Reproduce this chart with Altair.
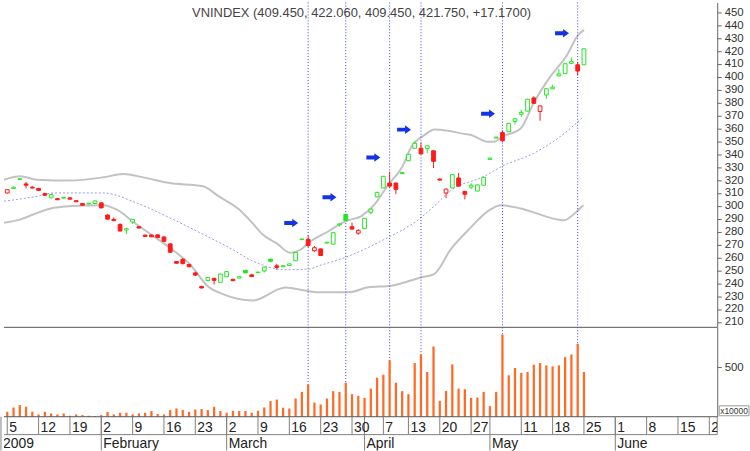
import altair as alt
import pandas as pd

# ---- daily candles: trading-day index 0 = 5 Jan 2009 ----
opens = [310, 313.5, 320.5, 317, 314.5, 313.5, 309.5, 306.2, 305.6, 306,
         306.2, 304, 301.8, 301.5, 301.8, 302.3, 292.9, 289.5, 285.6, 281.3,
         287.5, 283.8, 277.3, 277.3, 277.5, 275.9, 270.5, 256.8, 258.5, 254.5,
         248, 237.5, 242, 243.8, 240.7, 245, 243, 244, 250, 246.5,
         248.2, 249.5, 258.7, 253.5, 252.8, 253.8, 257.4, 273.8, 274, 265.2,
         266.6, 271.2, 270.3, 285.3, 293.4, 283.8, 278.8, 282.3, 295, 307,
         313.9, 317.7, 317.7, 325, 335, 344.7, 344.7, 344.5, 342.7, 320.8,
         310, 313.9, 321.6, 311.2, 314.5, 311.5, 316, 336, 352.6, 356.8,
         357.5, 365.5, 371, 373.5, 383.7, 373.2, 386, 390.8, 400.8, 402.5,
         410.5, 409.4, 409.45]
highs = [313, 315, 321.5, 318.6, 315.2, 314, 310, 309.2, 306, 306.8,
         306.6, 304.5, 302.2, 302.3, 304.2, 302.8, 293.3, 291, 286.5, 282.5,
         289.8, 284.2, 277.8, 277.8, 277.8, 276.2, 271, 257.2, 259.5, 255,
         249, 238, 244.8, 244.2, 247.4, 249.3, 243.4, 245.3, 250.4, 246.9,
         248.9, 252.8, 259, 255, 253.8, 255.3, 264.1, 274.5, 277, 268.8,
         267, 272, 279.5, 286.2, 293.7, 287, 281.8, 290.6, 297.8, 310.8,
         323.2, 326.5, 318, 326, 340.3, 350, 349, 346.8, 343, 321.2,
         313.3, 324.5, 325.5, 311.5, 317.5, 316.5, 322.4, 337.3, 353.6, 358.5,
         364.3, 367.8, 374.5, 383, 385, 377.8, 391.1, 394, 406, 410.5,
         415, 411.5, 422.06]
lows = [309.5, 313, 320, 313.6, 313.5, 311.5, 307.8, 306, 304.3, 305.8,
        304.8, 302.8, 300.2, 301.2, 301.5, 298.2, 289.3, 288, 280.2, 278,
        286, 282.5, 276, 275.8, 275.3, 272.2, 263.5, 255.2, 254.5, 252.5,
        245.5, 236, 241.8, 239, 240.5, 244.8, 241.6, 243.8, 247.8, 244.9,
        248, 248.3, 256.7, 250.5, 252.6, 253.6, 257.2, 273.6, 268, 264.2,
        261.2, 271, 270.1, 284, 288.2, 281.5, 277.5, 282.1, 293.5, 306.8,
        313.7, 314, 309, 324.8, 334.8, 344.5, 340, 340.8, 329.3, 319.7,
        306, 313.7, 315, 305, 313, 311.3, 315.8, 335.8, 352.4, 349.5,
        357.3, 363, 369, 373.3, 379.2, 366, 383, 390.6, 400.6, 402.3,
        410.3, 401, 409.45]
closes = [312.5, 314.5, 321, 316, 313.8, 312, 308.2, 308.8, 304.8, 306.5,
          305.2, 303.2, 300.5, 302, 303.8, 298.4, 289.7, 288.6, 280.5, 282.3,
          289.5, 282.8, 276.3, 276, 275.5, 272.5, 264, 255.5, 255.2, 252.8,
          246.3, 236.3, 244.5, 242.2, 247.1, 249, 242, 245, 248, 245.2,
          248.6, 252.5, 257, 252.3, 253.5, 255, 263.8, 274.3, 269.2, 267.5,
          261.5, 271.8, 279.2, 286, 288.5, 282, 281, 290.3, 297.5, 310.5,
          322.9, 315.3, 312.8, 325.8, 340, 348.5, 340.3, 346.5, 334.5, 320,
          313, 324.2, 315.3, 309, 316, 316.2, 322.1, 337, 353.3, 350.5,
          364, 367.5, 372.5, 382.7, 379.5, 377.5, 390.8, 392, 402.2, 410.2,
          411.8, 404.58, 421.75]
prior_close = 316.0
volumes = [50, 93, 117, 100, 50, 23, 50, 33, 23, 33,
           10, 23, 17, 10, 7, 17, 47, 23, 40, 40,
           23, 33, 40, 57, 27, 23, 67, 83, 67, 50,
           73, 77, 67, 100, 57, 40, 60, 57, 57, 40,
           60, 93, 157, 173, 90, 83, 183, 250, 323, 143,
           123, 183, 257, 250, 343, 227, 210, 190, 283, 393,
           423, 567, 343, 257, 227, 540, 627, 450, 707, 160,
           260, 527, 283, 277, 190, 193, 250, 107, 250, 827,
           417, 490, 440, 450, 523, 540, 517, 507, 517, 600,
           627, 733, 450]

# ---- Bollinger bands (read at sample days) ----
upper_days = [-0.5, 2.1, 4.7, 10, 15.3, 18.5, 21.7, 25.9, 31.2, 33.7, 36.9, 39.1, 40.7,
              43.1, 45.1, 47, 47.8, 51.3, 54, 56.5, 58.6, 60.8, 62.9, 64.5, 66.6, 68.1,
              70.3, 72.4, 74, 76.6, 77.7, 79, 81.9, 84, 86.6, 89.3, 91, 92]
upper_vals = [320.3, 322.9, 320.3, 319.6, 322.1, 324.7, 322.1, 317.7, 315.2, 307.5, 297.5,
              286.7, 278, 270.5, 263.6, 266.7, 270.3, 280.5, 288.2, 292.1, 301.1, 316.5,
              329.3, 346, 355, 359.3, 358.3, 356.2, 355, 349.8, 349.8, 353.7, 360, 380,
              400, 417, 432, 436.5]
mid_days = [-0.5, 4.8, 7.4, 15.3, 20.6, 25.9, 31.2, 35.4, 39.1, 44.4, 48.1, 49.7, 53.9,
            60.2, 65.5, 68.1, 70.8, 76.1, 78.9, 84, 88.2, 91.9]
mid_vals = [303.6, 307.5, 310, 310, 302.3, 290.8, 278, 267.6, 257.4, 250.5, 251, 253.5,
            260, 274.1, 289, 299.8, 312, 322.9, 330.6, 340.8, 353.7, 369]
lower_days = [-0.5, 2.1, 4.8, 7.4, 10, 15.3, 17.4, 20.6, 25.9, 29.1, 32.2, 34.3, 39.1,
              44.4, 47.5, 49.7, 54.4, 57.6, 61.3, 66, 68.1, 70.8, 73.4, 77.1, 78.7, 81.9,
              87.7, 88.8, 90.9, 91.9]
lower_vals = [286.9, 289.5, 294.6, 298.5, 299.8, 300.5, 297.2, 285.7, 267.6, 254.9, 236.8,
              231.7, 226.6, 236.6, 234.3, 233, 233, 236.8, 238.1, 244.5, 247.1, 266.6,
              280.5, 297.2, 300.5, 298, 289.5, 288.8, 295.9, 300.5]

# ---- signals ----
signal_days = [48, 54, 61, 66, 79, 91]
arrow_days = [45.3, 51.4, 58.4, 63.3, 76.7, 88.5]
arrow_prices = [286.7, 306.7, 337.5, 359.1, 371.4, 433.8]

# ---- date axis ----
week_days = [0, 5, 10, 15, 20, 25, 30, 35, 40, 45, 50, 55, 60, 64, 69, 74, 82, 87, 92,
             97, 102, 107, 112]
week_labels = ["5", "12", "19", "2", "9", "16", "23", "2", "9", "16", "23", "30", "7",
               "13", "20", "27", "11", "18", "25", "1", "8", "15", "22"]
month_days = [-1, 15, 35, 57, 77, 97]
month_labels = ["2009", "February", "March", "April", "May", "June"]
title_text = "VNINDEX (409.450, 422.060, 409.450, 421.750, +17.1700)"

# ---------------------------------------------------------------
n = len(closes)
prev = [prior_close] + closes[:-1]
candles = pd.DataFrame({
    "day": list(range(n)), "open": opens, "high": highs, "low": lows,
    "close": closes, "volume": volumes,
    "dir": ["up" if c >= p else "down" for c, p in zip(closes, prev)],
    "hollow": [c >= o for o, c in zip(opens, closes)],
})

FONT = "Liberation Sans"
W = 718
xs = alt.Scale(domain=[-0.523, 113.26], nice=False, zero=False)
ys = alt.Scale(domain=[205.8, 457.7], nice=False, zero=False)
vs = alt.Scale(domain=[0, 900], nice=False, zero=False)
cs = alt.Scale(domain=["up", "down"], range=["#22e622", "#ff1a1a"])

price_axis = alt.Axis(orient="right", values=list(range(210, 460, 10)), title=None,
                      tickSize=4, labelPadding=3, labelFontSize=11.5, labelFont=FONT,
                      labelColor="#333333", domainColor="#666666", tickColor="#666666",
                      grid=False, labelOverlap=False, labelFlush=False)
vol_axis = alt.Axis(orient="right", values=[500], title=None, tickSize=4, labelPadding=3,
                    labelFontSize=11.5, labelFont=FONT, labelColor="#333333",
                    domainColor="#666666", tickColor="#666666", grid=False)

X = lambda f: alt.X(f, scale=xs, axis=None)
YP = lambda f: alt.Y(f, scale=ys, axis=price_axis)

one = pd.DataFrame({"k": [0]})

band_u = alt.Chart(pd.DataFrame({"day": upper_days, "v": upper_vals})).mark_line(
    color="#c2c2c2", strokeWidth=2, clip=True, interpolate="monotone").encode(
    x=X("day:Q"), y=YP("v:Q"))
band_l = alt.Chart(pd.DataFrame({"day": lower_days, "v": lower_vals})).mark_line(
    color="#c2c2c2", strokeWidth=2, clip=True, interpolate="monotone").encode(
    x=X("day:Q"), y=YP("v:Q"))
band_m = alt.Chart(pd.DataFrame({"day": mid_days, "v": mid_vals})).mark_line(
    color="#9a9ae0", strokeWidth=1, strokeDash=[2, 2], clip=True, interpolate="monotone").encode(
    x=X("day:Q"), y=YP("v:Q"))

sig = pd.DataFrame({"day": signal_days})
vlines_p = alt.Chart(sig).mark_rule(color="#3c3cff", strokeWidth=1, strokeDash=[1, 2]).encode(
    x=X("day:Q"))

base = alt.Chart(candles)
wicks = base.mark_rule(strokeWidth=1).encode(
    x=X("day:Q"), y=YP("low:Q"), y2="high:Q",
    color=alt.Color("dir:N", scale=cs, legend=None))
body_base = base.transform_calculate(b0="datum.day - 0.3", b1="datum.day + 0.3")
filled = body_base.transform_filter("!datum.hollow").mark_rect(strokeWidth=1).encode(
    x=X("b0:Q"), x2="b1:Q", y=YP("open:Q"), y2="close:Q",
    color=alt.Color("dir:N", scale=cs, legend=None),
    stroke=alt.Stroke("dir:N", scale=cs, legend=None))
hollow = body_base.transform_filter("datum.hollow").mark_rect(strokeWidth=1, fill="white").encode(
    x=X("b0:Q"), x2="b1:Q", y=YP("open:Q"), y2="close:Q",
    stroke=alt.Stroke("dir:N", scale=cs, legend=None))

arrow_path = "M-1,-0.28L0.15,-0.28L0.15,-0.62L1,0L0.15,0.62L0.15,0.28L-1,0.28Z"
arrows = alt.Chart(pd.DataFrame({"day": arrow_days, "p": arrow_prices})).mark_point(
    shape=arrow_path, size=196, filled=True, color="#1432e6", opacity=1, strokeWidth=0).encode(
    x=X("day:Q"), y=YP("p:Q"))

title = alt.Chart(pd.DataFrame({"t": [title_text]})).mark_text(
    font=FONT, fontSize=13, color="#444444", align="center", baseline="alphabetic").encode(
    x=alt.value(360), y=alt.value(14.5), text="t:N")

price = alt.layer(band_u, band_l, band_m, vlines_p, wicks, filled, hollow, arrows, title).properties(
    width=W, height=327)

# volume panel
vbars = base.transform_calculate(b0="datum.day - 0.18", b1="datum.day + 0.18").mark_rect(
    color="#ff6a26").encode(
    x=X("b0:Q"), x2="b1:Q", y=alt.Y("volume:Q", scale=vs, axis=vol_axis), y2=alt.datum(0))
vlines_v = alt.Chart(sig).mark_rule(color="#3c3cff", strokeWidth=1, strokeDash=[1, 2]).encode(
    x=X("day:Q"))
top_line = alt.Chart(one).mark_rule(color="#555555", strokeWidth=1).encode(y=alt.value(0))
bot_line = alt.Chart(one).mark_rule(color="#555555", strokeWidth=1).encode(y=alt.value(90))
unit_box = alt.Chart(one).mark_rect(fill="white", stroke="#999999", strokeWidth=1).encode(
    x=alt.value(720), x2=alt.value(750), y=alt.value(79), y2=alt.value(89))
unit_txt = alt.Chart(pd.DataFrame({"t": ["x10000"]})).mark_text(
    font=FONT, fontSize=8.5, color="#333333", align="left", baseline="alphabetic").encode(
    x=alt.value(721), y=alt.value(87.5), text="t:N")
volume = alt.layer(vlines_v, vbars, top_line, bot_line, unit_box, unit_txt).properties(
    width=W, height=90)

# date axis panel
wk = pd.DataFrame({"day": week_days, "label": week_labels})
mo = pd.DataFrame({"day": month_days, "label": month_labels})
wk_sep = alt.Chart(wk).mark_rule(color="#808080", strokeWidth=1).encode(
    x=X("day:Q"), y=alt.value(0), y2=alt.value(18))
wk_txt = alt.Chart(wk).mark_text(font=FONT, fontSize=14, color="#222222", align="left",
                                 baseline="alphabetic", dx=2, clip=True).encode(
    x=X("day:Q"), y=alt.value(15), text="label:N")
mo_sep = alt.Chart(mo).mark_rule(color="#808080", strokeWidth=1).encode(
    x=X("day:Q"), y=alt.value(0), y2=alt.value(34))
mo_txt = alt.Chart(mo).mark_text(font=FONT, fontSize=14, color="#222222", align="left",
                                 baseline="alphabetic", dx=2, clip=True).encode(
    x=X("day:Q"), y=alt.value(31.5), text="label:N")
mid_line = alt.Chart(one).mark_rule(color="#808080", strokeWidth=1).encode(y=alt.value(18))
right_edge = alt.Chart(one).mark_rule(color="#808080", strokeWidth=1).encode(
    x=alt.value(W), y=alt.value(0), y2=alt.value(18))
dates = alt.layer(wk_sep, mo_sep, mid_line, right_edge, wk_txt, mo_txt).properties(
    width=W, height=34)

chart = alt.vconcat(price, volume, dates, spacing=0, bounds="flush").properties(
    padding=0, background="white").configure_view(stroke=None)

chart.save("out.html", embed_options={"renderer": "svg", "actions": False})
